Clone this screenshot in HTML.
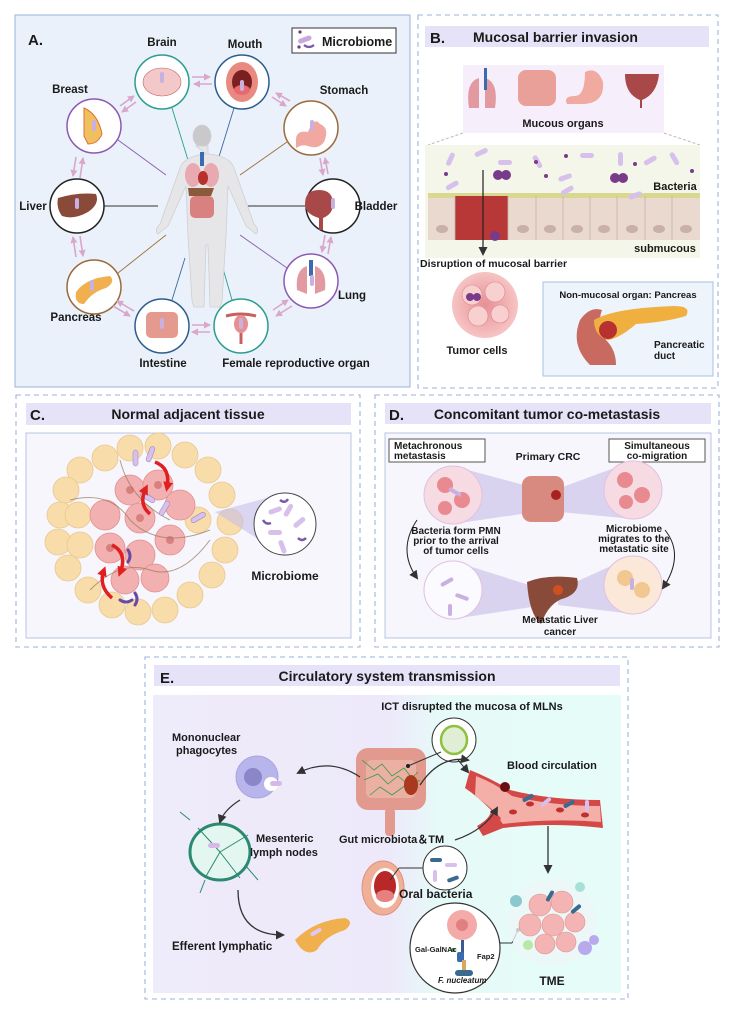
<!DOCTYPE html>
<html><head><meta charset="utf-8"><style>
html,body{margin:0;padding:0;background:#fff;}
svg{display:block;font-family:"Liberation Sans",sans-serif;}
.t{font-weight:bold;fill:#1a1a1a;}
</style></head><body>
<svg width="735" height="1015" viewBox="0 0 735 1015" xmlns="http://www.w3.org/2000/svg">
<defs>
<marker id="ah" markerUnits="userSpaceOnUse" markerWidth="9" markerHeight="9" refX="7" refY="4.5" orient="auto"><path d="M0,0 L9,4.5 L0,9 z" fill="#333"/></marker>
<marker id="rh" markerUnits="userSpaceOnUse" markerWidth="10" markerHeight="10" refX="6" refY="5" orient="auto"><path d="M0,0 L10,5 L0,10 z" fill="#e02020"/></marker>
<marker id="pk" markerUnits="userSpaceOnUse" markerWidth="7" markerHeight="7" refX="6" refY="3.5" orient="auto"><path d="M0,0 L7,3.5 L0,7 z" fill="#d9a6cc"/></marker>
<linearGradient id="eg" x1="0" x2="1" y1="0" y2="0"><stop offset="0" stop-color="#eeebfa"/><stop offset="0.5" stop-color="#ede9fa"/><stop offset="0.62" stop-color="#e6fbf8"/><stop offset="1" stop-color="#e6fcf9"/></linearGradient>
<radialGradient id="tum"><stop offset="0" stop-color="#e88f95"/><stop offset="1" stop-color="#f6c4c4"/></radialGradient>
</defs>

<!-- PANEL A -->
<rect x="15" y="15" width="395" height="372" fill="#eaf1fa" stroke="#a9bfdf" stroke-width="1.2"/>
<text x="28" y="45" class="t" font-size="15">A.</text>
<rect x="292" y="28" width="104" height="25" fill="#fff" stroke="#333"/>
<rect x="298" y="37" width="14" height="5" rx="2.5" fill="#c8a8dc" transform="rotate(-20 305 40)"/>
<circle cx="300" cy="32" r="1.6" fill="#6a3a8a"/><circle cx="299" cy="47" r="1.6" fill="#6a3a8a"/>
<path d="M304 45 q5 4 10 0" stroke="#7a5aa8" stroke-width="2.2" fill="none"/>
<text x="322" y="46" class="t" font-size="12.5">Microbiome</text>

<g stroke-width="0.9" fill="none">
<line x1="172" y1="108" x2="188" y2="160" stroke="#2a9d8f"/>
<line x1="234" y1="108" x2="218" y2="160" stroke="#3a6aa0"/>
<line x1="287" y1="142" x2="240" y2="175" stroke="#a0703a"/>
<line x1="305" y1="206" x2="248" y2="206" stroke="#333"/>
<line x1="287" y1="268" x2="240" y2="235" stroke="#8a5ab0"/>
<line x1="232" y1="300" x2="220" y2="258" stroke="#2a9d8f"/>
<line x1="172" y1="300" x2="185" y2="258" stroke="#3a6aa0"/>
<line x1="118" y1="273" x2="166" y2="235" stroke="#a0703a"/>
<line x1="104" y1="206" x2="158" y2="206" stroke="#333"/>
<line x1="118" y1="140" x2="166" y2="175" stroke="#8a5ab0"/>
</g>
<g fill="#e6e6e8" stroke="#cfcfd4" stroke-width="0.8">
<ellipse cx="202" cy="136" rx="9" ry="11" fill="#c9c9cc"/>
<path d="M196 146 h12 v8 q22 2 26 14 l20 56 q6 6 2 10 l-10 -8 l-18 -40 l-2 50 l-4 65 l-2 6 h-10 l-2 -62 h-2 l-2 62 h-10 l-2 -6 l-4 -65 l-2 -50 l-18 40 l-10 8 q-4 -4 2 -10 l20 -56 q4 -12 26 -14 z"/>
</g>
<rect x="200" y="152" width="4" height="14" fill="#3a6ab0"/>
<ellipse cx="193" cy="175" rx="8" ry="12" fill="#e8aab0"/><ellipse cx="211" cy="175" rx="8" ry="12" fill="#e8aab0"/>
<ellipse cx="203" cy="178" rx="5" ry="7" fill="#b8302e"/>
<path d="M188 188 h26 l-3 8 h-22 z" fill="#8a5a3a"/>
<rect x="190" y="196" width="24" height="22" rx="5" fill="#d98080"/>
<g stroke-width="1.5" fill="#fff">
<circle cx="162" cy="82" r="27" stroke="#2a9d8f"/>
<circle cx="242" cy="82" r="27" stroke="#2d5d8f"/>
<circle cx="311" cy="128" r="27" stroke="#9a6a3a"/>
<circle cx="333" cy="206" r="27" stroke="#222"/>
<circle cx="311" cy="281" r="27" stroke="#8a5ab0"/>
<circle cx="241" cy="326" r="27" stroke="#2a9d8f"/>
<circle cx="162" cy="326" r="27" stroke="#2d5d8f"/>
<circle cx="94" cy="287" r="27" stroke="#9a6a3a"/>
<circle cx="77" cy="206" r="27" stroke="#222"/>
<circle cx="94" cy="126" r="27" stroke="#8a5ab0"/>
</g>
<ellipse cx="162" cy="82" rx="19" ry="14" fill="#f3c8c8" stroke="#c86060" stroke-width="0.6"/>
<ellipse cx="242" cy="82" rx="16" ry="20" fill="#e88a80"/><ellipse cx="242" cy="82" rx="10" ry="12" fill="#7a2020"/><ellipse cx="242" cy="90" rx="8" ry="5" fill="#e86a70"/>
<path d="M296 140 q0 -10 12 -8 q6 -16 12 -8 q10 4 4 18 q-6 8 -16 4 q-6 -2 -12 2 z" fill="#f0a8a0"/>
<path d="M319 190 q14 0 14 14 q0 10 -10 14 v12 h-4 v-12 q-14 -4 -14 -14 q0 -14 14 -14z" fill="#a84848"/>
<path d="M297 290 q-2 -20 10 -24 v28 z M325 290 q2 -20 -10 -24 v28 z" fill="#e29aa0"/><rect x="309" y="260" width="4" height="16" fill="#3a6ab0"/>
<path d="M226 316 q15 -4 30 0 M241 316 v28" stroke="#c86060" stroke-width="3" fill="none"/><ellipse cx="241" cy="324" rx="7" ry="9" fill="#e89090"/>
<rect x="146" y="312" width="32" height="26" rx="5" fill="#e59a90"/>
<path d="M76 292 q10 -14 34 -16 q6 6 -4 12 q-14 4 -22 16 q-10 0 -8 -12z" fill="#f0b050"/>
<path d="M58 198 q20 -6 38 -4 q4 10 -8 18 q-14 8 -26 4 q-6 -8 -4 -18z" fill="#8a4a3a"/>
<path d="M84 108 q14 6 18 26 q-4 10 -14 10 l-4 -8z" fill="#f0c060" stroke="#e07030"/>
<g fill="#c8b0e0"><rect x="160" y="72" width="4" height="11" rx="2"/><rect x="240" y="80" width="4" height="11" rx="2"/><rect x="310" y="120" width="4" height="11" rx="2"/><rect x="331" y="198" width="4" height="11" rx="2"/><rect x="160" y="318" width="4" height="11" rx="2"/><rect x="239" y="318" width="4" height="11" rx="2"/><rect x="90" y="280" width="4" height="11" rx="2"/><rect x="75" y="198" width="4" height="11" rx="2"/><rect x="92" y="120" width="4" height="11" rx="2"/><rect x="310" y="275" width="4" height="11" rx="2"/></g>
<g stroke="#d9a6cc" stroke-width="1.6" marker-end="url(#pk)">
<line x1="192" y1="77" x2="210" y2="77"/><line x1="212" y1="84" x2="194" y2="84"/>
<line x1="272" y1="97" x2="286" y2="106"/><line x1="290" y1="101" x2="276" y2="93"/>
<line x1="320" y1="158" x2="323" y2="175"/><line x1="328" y1="174" x2="325" y2="158"/>
<line x1="325" y1="235" x2="322" y2="252"/><line x1="328" y1="254" x2="331" y2="237"/>
<line x1="292" y1="306" x2="276" y2="316"/><line x1="273" y1="310" x2="288" y2="300"/>
<line x1="192" y1="325" x2="210" y2="325"/><line x1="210" y1="332" x2="192" y2="332"/>
<line x1="113" y1="306" x2="130" y2="316"/><line x1="134" y1="311" x2="117" y2="301"/>
<line x1="80" y1="236" x2="83" y2="256"/><line x1="76" y1="257" x2="73" y2="237"/>
<line x1="80" y1="178" x2="83" y2="158"/><line x1="76" y1="157" x2="73" y2="176"/>
<line x1="120" y1="106" x2="134" y2="96"/><line x1="136" y1="102" x2="122" y2="112"/>
</g>
<g class="t" font-size="11.5" text-anchor="middle">
<text x="162" y="46">Brain</text><text x="245" y="48">Mouth</text><text x="344" y="94">Stomach</text>
<text x="70" y="93">Breast</text><text x="33" y="210">Liver</text><text x="376" y="210">Bladder</text>
<text x="352" y="299">Lung</text><text x="76" y="321">Pancreas</text>
<text x="163" y="367">Intestine</text><text x="296" y="367">Female reproductive organ</text>
</g>

<!-- PANEL B -->
<rect x="418" y="15" width="300" height="373" fill="none" stroke="#9fb3dc" stroke-dasharray="5,4" stroke-width="1.1"/>
<rect x="425" y="26" width="284" height="21" fill="#e6e3f8"/>
<text x="430" y="43" class="t" font-size="15">B.</text>
<text x="473" y="42" class="t" font-size="14">Mucosal barrier invasion</text>
<rect x="463" y="65" width="201" height="68" fill="#f6eefb"/>
<path d="M469 108 q-4 -26 10 -30 v30z M495 108 q4 -26 -10 -30 v30z" fill="#e29aa0"/><rect x="484" y="68" width="3" height="22" fill="#3a6ab0"/>
<rect x="518" y="70" width="38" height="36" rx="8" fill="#e9a098"/>
<path d="M567 104 q-4 -8 8 -8 q10 0 10 -24 q12 -6 18 10 q2 20 -18 22 z" fill="#f0aaa0"/>
<path d="M625 74 h34 q-2 20 -17 26 v8 h-2 v-8 q-15 -6 -15 -26z" fill="#a84848"/>
<text x="563" y="127" class="t" font-size="11" text-anchor="middle">Mucous organs</text>
<path d="M463 133 L428 145 M664 133 L700 145" stroke="#bbb" stroke-dasharray="3,2" fill="none"/>
<rect x="425" y="145" width="275" height="113" fill="#f3f6e8"/>
<rect x="428" y="196" width="272" height="44" fill="#e9d9cf"/>
<rect x="428" y="193" width="272" height="5" fill="#d8d890"/>
<rect x="455" y="196" width="53" height="44" fill="#b83838"/>
<g stroke="#c8b0a8" stroke-width="0.8"><line x1="455" y1="196" x2="455" y2="240"/><line x1="508" y1="196" x2="508" y2="240"/><line x1="536" y1="196" x2="536" y2="240"/><line x1="563" y1="196" x2="563" y2="240"/><line x1="590" y1="196" x2="590" y2="240"/><line x1="617" y1="196" x2="617" y2="240"/><line x1="645" y1="196" x2="645" y2="240"/><line x1="672" y1="196" x2="672" y2="240"/></g>
<g fill="#c9b0a8"><ellipse cx="442" cy="229" rx="6" ry="4"/><ellipse cx="523" cy="229" rx="6" ry="4"/><ellipse cx="550" cy="229" rx="6" ry="4"/><ellipse cx="577" cy="229" rx="6" ry="4"/><ellipse cx="604" cy="229" rx="6" ry="4"/><ellipse cx="632" cy="229" rx="6" ry="4"/><ellipse cx="659" cy="229" rx="6" ry="4"/><ellipse cx="686" cy="229" rx="6" ry="4"/></g>
<g fill="#d8c0ec"><rect x="448" y="152" width="5" height="14" rx="2.5" transform="rotate(25 450 159)"/><rect x="474" y="150" width="14" height="5" rx="2.5" transform="rotate(-25 481 152)"/><rect x="498" y="160" width="14" height="5" rx="2.5"/><rect x="535" y="155" width="5" height="14" rx="2.5" transform="rotate(-30 537 162)"/><rect x="558" y="175" width="14" height="5" rx="2.5" transform="rotate(-20 565 177)"/><rect x="580" y="153" width="14" height="5" rx="2.5"/><rect x="618" y="152" width="5" height="14" rx="2.5"/><rect x="643" y="158" width="14" height="5" rx="2.5" transform="rotate(-30 650 160)"/><rect x="672" y="152" width="5" height="14" rx="2.5" transform="rotate(-30 674 159)"/><rect x="445" y="183" width="14" height="5" rx="2.5" transform="rotate(-30 452 185)"/><rect x="628" y="193" width="14" height="5" rx="2.5" transform="rotate(-20 635 195)"/><rect x="560" y="188" width="14" height="5" rx="2.5" transform="rotate(-30 567 190)"/></g>
<g fill="#7a3a8a"><circle cx="498" cy="175" r="5"/><circle cx="506" cy="175" r="5"/><circle cx="615" cy="178" r="5"/><circle cx="623" cy="178" r="5"/><circle cx="536" cy="162" r="2"/><circle cx="566" cy="156" r="2"/><circle cx="546" cy="176" r="2"/><circle cx="635" cy="164" r="2"/><circle cx="692" cy="171" r="2"/><circle cx="446" cy="174" r="2"/><circle cx="495" cy="236" r="5"/></g>
<line x1="483" y1="170" x2="483" y2="254" stroke="#222" stroke-width="1.2" marker-end="url(#ah)"/>
<text x="675" y="190" class="t" font-size="11" text-anchor="middle">Bacteria</text>
<text x="665" y="252" class="t" font-size="11" text-anchor="middle">submucous</text>
<text x="420" y="267" class="t" font-size="10.5">Disruption of mucosal barrier</text>
<circle cx="485" cy="305" r="33" fill="url(#tum)"/>
<g fill="#f8d0d0" stroke="#d88888" stroke-width="0.6"><circle cx="472" cy="295" r="10"/><circle cx="495" cy="292" r="10"/><circle cx="478" cy="316" r="10"/><circle cx="500" cy="314" r="9"/></g>
<circle cx="470" cy="297" r="4" fill="#7a3a8a"/><circle cx="477" cy="297" r="4" fill="#7a3a8a"/>
<text x="477" y="354" class="t" font-size="11" text-anchor="middle">Tumor cells</text>
<rect x="543" y="282" width="170" height="94" fill="#eef4fb" stroke="#a9c0e0"/>
<text x="628" y="298" class="t" font-size="9.5" text-anchor="middle">Non-mucosal organ: Pancreas</text>
<path d="M590 365 q-20 -20 -10 -45 q10 -14 22 -10 q-6 16 4 30 q10 10 10 25 z" fill="#c86a60"/>
<path d="M594 320 q20 -12 80 -14 q18 0 12 10 q-20 6 -50 8 q-16 14 -28 16 q-14 -4 -14 -20z" fill="#f0b040"/>
<circle cx="608" cy="330" r="9" fill="#b83030"/>
<text x="654" y="348" class="t" font-size="10">Pancreatic</text><text x="654" y="359" class="t" font-size="10">duct</text>

<!-- PANEL C -->
<rect x="16" y="395" width="344" height="252" fill="none" stroke="#9fb3dc" stroke-dasharray="5,4" stroke-width="1.1"/>
<rect x="26" y="403" width="325" height="22" fill="#e6e3f8"/>
<text x="30" y="420" class="t" font-size="15">C.</text>
<text x="188" y="419" class="t" font-size="14" text-anchor="middle">Normal adjacent tissue</text>
<rect x="26" y="433" width="325" height="205" fill="#f6f6fc" stroke="#b8c4e4"/>
<g fill="#f8dcaa" stroke="#e8c890" stroke-width="0.8">
<circle cx="80" cy="470" r="13"/><circle cx="105" cy="458" r="13"/><circle cx="130" cy="448" r="13"/><circle cx="158" cy="446" r="13"/><circle cx="185" cy="455" r="13"/><circle cx="208" cy="470" r="13"/><circle cx="222" cy="495" r="13"/><circle cx="230" cy="522" r="13"/><circle cx="225" cy="550" r="13"/><circle cx="212" cy="575" r="13"/><circle cx="190" cy="595" r="13"/><circle cx="165" cy="610" r="13"/><circle cx="138" cy="612" r="13"/><circle cx="112" cy="605" r="13"/><circle cx="88" cy="590" r="13"/><circle cx="68" cy="568" r="13"/><circle cx="58" cy="542" r="13"/><circle cx="60" cy="515" r="13"/><circle cx="66" cy="490" r="13"/><circle cx="78" cy="515" r="13"/><circle cx="80" cy="545" r="13"/><circle cx="198" cy="520" r="13"/></g>
<g fill="#f2b0b0" stroke="#e09090" stroke-width="0.8">
<circle cx="130" cy="490" r="15"/><circle cx="158" cy="485" r="15"/><circle cx="180" cy="505" r="15"/><circle cx="105" cy="515" r="15"/><circle cx="140" cy="518" r="15"/><circle cx="170" cy="540" r="15"/><circle cx="110" cy="548" r="15"/><circle cx="140" cy="555" r="15"/><circle cx="125" cy="580" r="14"/><circle cx="155" cy="578" r="14"/></g>
<g fill="#d88080"><circle cx="130" cy="490" r="4"/><circle cx="158" cy="485" r="4"/><circle cx="140" cy="518" r="4"/><circle cx="110" cy="548" r="4"/><circle cx="170" cy="540" r="4"/></g>
<g stroke="#9a7a5a" stroke-width="1" fill="none" opacity="0.7"><path d="M70 500 q40 -10 60 20 q30 30 80 10"/><path d="M90 590 q30 -30 60 -20 q30 10 60 -30"/><path d="M120 460 q10 40 50 60"/></g>
<g fill="#d8c0ec" stroke="#9a80b8" stroke-width="0.5"><rect x="133" y="450" width="5" height="16" rx="2.5"/><rect x="148" y="446" width="5" height="16" rx="2.5" transform="rotate(20 150 454)"/><rect x="140" y="495" width="16" height="5" rx="2.5" transform="rotate(30 148 497)"/><rect x="162" y="500" width="5" height="16" rx="2.5" transform="rotate(30 164 508)"/><rect x="190" y="515" width="16" height="5" rx="2.5" transform="rotate(-30 198 517)"/></g>
<g stroke="#6a4aa0" stroke-width="3" fill="none" stroke-linecap="round"><path d="M120 600 q6 4 12 0"/><path d="M135 605 q4 -6 0 -12"/><path d="M128 550 q4 6 0 12"/></g>
<g stroke="#e02020" stroke-width="3.5" fill="none" marker-end="url(#rh)"><path d="M155 462 q16 6 12 26"/><path d="M150 514 q-12 -10 -4 -26"/><path d="M112 545 q16 8 8 28"/><path d="M112 598 q-14 -12 -8 -28"/></g>
<path d="M215 512 L285 493 L285 556 Z" fill="#c8c0e8" opacity="0.6"/>
<circle cx="285" cy="524" r="31" fill="#fff" stroke="#444" stroke-width="1"/>
<g fill="#d8c0ec"><rect x="268" y="508" width="14" height="5" rx="2.5" transform="rotate(-20 275 510)"/><rect x="286" y="503" width="5" height="14" rx="2.5" transform="rotate(30 288 510)"/><rect x="268" y="530" width="14" height="5" rx="2.5"/><rect x="292" y="520" width="14" height="5" rx="2.5" transform="rotate(-40 299 522)"/><rect x="280" y="540" width="5" height="14" rx="2.5" transform="rotate(-20 282 547)"/></g>
<g stroke="#7a5aa8" stroke-width="2.5" fill="none"><path d="M280 500 q5 4 8 -1"/><path d="M298 538 q4 4 8 0"/><path d="M263 520 q3 5 8 3"/></g>
<text x="285" y="580" class="t" font-size="12" text-anchor="middle">Microbiome</text>

<!-- PANEL D -->
<rect x="375" y="395" width="344" height="252" fill="none" stroke="#9fb3dc" stroke-dasharray="5,4" stroke-width="1.1"/>
<rect x="385" y="403" width="326" height="21" fill="#e6e3f8"/>
<text x="389" y="420" class="t" font-size="15">D.</text>
<text x="547" y="419" class="t" font-size="14" text-anchor="middle">Concomitant tumor co-metastasis</text>
<rect x="385" y="433" width="326" height="205" fill="#f6f6fc" stroke="#b8c4e4"/>
<rect x="389" y="439" width="96" height="23" fill="#fff" stroke="#555"/>
<text x="394" y="449" class="t" font-size="10">Metachronous</text><text x="394" y="459" class="t" font-size="10">metastasis</text>
<rect x="609" y="439" width="96" height="23" fill="#fff" stroke="#555"/>
<text x="657" y="449" class="t" font-size="10" text-anchor="middle">Simultaneous</text><text x="657" y="459" class="t" font-size="10" text-anchor="middle">co-migration</text>
<text x="548" y="460" class="t" font-size="10.5" text-anchor="middle">Primary CRC</text>
<g fill="#c8bce8" opacity="0.6"><path d="M453 466 L535 488 L535 512 L453 524z"/><path d="M633 461 L560 488 L560 512 L633 519z"/><path d="M453 561 L545 590 L545 605 L453 619z"/><path d="M633 556 L558 590 L558 605 L633 614z"/></g>
<rect x="522" y="476" width="42" height="46" rx="9" fill="#d98a80"/><circle cx="556" cy="495" r="5" fill="#a82020"/>
<path d="M527 582 q20 -8 50 -4 q4 14 -12 20 q-16 4 -24 26 q-12 -10 -14 -42z" fill="#8a4a3a"/><circle cx="558" cy="590" r="5" fill="#d05020"/>
<g stroke="#e0c0e0" stroke-width="1" fill="#f7dbe2"><circle cx="453" cy="495" r="29"/><circle cx="633" cy="490" r="29"/><circle cx="453" cy="590" r="29" fill="#fafaff"/><circle cx="633" cy="585" r="29" fill="#fbe8d8"/></g>
<g fill="#e88a90"><circle cx="445" cy="485" r="8"/><circle cx="462" cy="500" r="8"/><circle cx="445" cy="508" r="7"/><circle cx="625" cy="480" r="8"/><circle cx="642" cy="495" r="8"/><circle cx="626" cy="502" r="7"/></g>
<g fill="#f0c890"><circle cx="625" cy="578" r="8"/><circle cx="642" cy="590" r="8"/></g>
<g fill="#c8b0e0"><rect x="440" y="580" width="14" height="4" rx="2" transform="rotate(-30 447 582)"/><rect x="455" y="595" width="14" height="4" rx="2" transform="rotate(20 462 597)"/><rect x="448" y="604" width="4" height="12" rx="2"/><rect x="630" y="578" width="4" height="12" rx="2"/><rect x="448" y="490" width="14" height="4" rx="2" transform="rotate(30 455 492)"/></g>
<g stroke="#222" stroke-width="1" fill="none" marker-end="url(#ah)"><path d="M417 520 q-20 30 0 58"/><path d="M665 530 q20 25 -2 58"/></g>
<g class="t" font-size="10" text-anchor="middle">
<text x="456" y="534">Bacteria form PMN</text><text x="456" y="544">prior to the arrival</text><text x="456" y="554">of tumor cells</text>
<text x="634" y="532">Microbiome</text><text x="634" y="542">migrates to the</text><text x="634" y="552">metastatic site</text>
<text x="560" y="623">Metastatic Liver</text><text x="560" y="635">cancer</text>
</g>

<!-- PANEL E -->
<rect x="145" y="657" width="483" height="342" fill="none" stroke="#9fb3dc" stroke-dasharray="5,4" stroke-width="1.1"/>
<rect x="154" y="665" width="466" height="21" fill="#e6e3f8"/>
<text x="160" y="683" class="t" font-size="15">E.</text>
<text x="387" y="681" class="t" font-size="14" text-anchor="middle">Circulatory system transmission</text>
<rect x="153" y="695" width="468" height="298" fill="url(#eg)"/>
<text x="472" y="710" class="t" font-size="11" text-anchor="middle">ICT disrupted the mucosa of MLNs</text>
<text x="172" y="741" class="t" font-size="11">Mononuclear</text><text x="176" y="754" class="t" font-size="11">phagocytes</text>
<circle cx="257" cy="777" r="21" fill="#b8b4ec" stroke="#a8a4dc"/>
<circle cx="253" cy="777" r="9" fill="#8a86c8"/>
<circle cx="271" cy="784" r="7" fill="#fff"/>
<rect x="270" y="781" width="12" height="5" rx="2.5" fill="#d8b8e8"/>
<ellipse cx="220" cy="852" rx="30" ry="28" fill="#e4f6f0" stroke="#2a8a70" stroke-width="3"/>
<g stroke="#2a8a70" stroke-width="1" fill="none"><line x1="220" y1="852" x2="198" y2="828"/><line x1="220" y1="852" x2="248" y2="835"/><line x1="220" y1="852" x2="205" y2="878"/><line x1="220" y1="852" x2="240" y2="878"/><line x1="190" y1="820" x2="180" y2="812"/><line x1="245" y1="865" x2="258" y2="880"/><line x1="205" y1="880" x2="200" y2="893"/></g>
<rect x="208" y="843" width="12" height="5" rx="2.5" fill="#d8b8e8"/>
<text x="256" y="842" class="t" font-size="11">Mesenteric</text><text x="250" y="856" class="t" font-size="11">lymph nodes</text>
<rect x="356" y="748" width="70" height="62" rx="12" fill="#e29a8e"/>
<rect x="366" y="760" width="50" height="38" rx="6" fill="#eab0a4"/>
<rect x="385" y="808" width="10" height="28" rx="4" fill="#e29a8e"/>
<g stroke="#3a9a40" stroke-width="0.8" fill="none"><path d="M362 760 l12 10 l8 -6 l10 12 l12 -8 l8 10 l6 -6"/><path d="M364 780 l14 -6 l10 10 l10 -8 l12 10 l10 -6"/><path d="M370 795 l10 -8 l12 8 l14 -10"/></g>
<ellipse cx="411" cy="785" rx="7" ry="10" fill="#a8381e"/>
<circle cx="454" cy="740" r="22" fill="#fff" stroke="#333"/>
<ellipse cx="454" cy="740" rx="13" ry="14" fill="#dfeed4" stroke="#90c040" stroke-width="2.5"/>
<line x1="458" y1="760" x2="468" y2="772" stroke="#333" marker-end="url(#ah)"/>
<line x1="441" y1="752" x2="408" y2="766" stroke="#333"/>
<circle cx="408" cy="766" r="2" fill="#222"/>
<path d="M470 770 q20 8 40 20 q40 10 90 10 l3 28 q-50 -6 -100 0 q-10 4 -20 8 l-6 -10 q14 -8 14 -16 q-14 -14 -26 -22z" fill="#d44848"/>
<path d="M476 776 q20 8 36 20 q40 10 88 10 l1 16 q-50 -4 -98 2 q-4 -4 -2 -6 q-14 -14 -26 -22z" fill="#f4b0a8"/>
<g fill="#c03030"><ellipse cx="530" cy="804" rx="4" ry="2.5"/><ellipse cx="560" cy="810" rx="4" ry="2.5"/><ellipse cx="585" cy="815" rx="4" ry="2.5"/><ellipse cx="513" cy="812" rx="4" ry="2.5"/><circle cx="505" cy="787" r="5" fill="#6a1010"/></g>
<g fill="#3a6a90"><rect x="522" y="796" width="12" height="4" rx="2" transform="rotate(-30 528 798)"/><rect x="563" y="802" width="12" height="4" rx="2" transform="rotate(-30 569 804)"/></g>
<g fill="#d8c0ec"><rect x="540" y="800" width="12" height="4" rx="2" transform="rotate(-40 546 802)"/><rect x="585" y="800" width="4" height="12" rx="2"/></g>
<text x="507" y="769" class="t" font-size="11">Blood circulation</text>
<text x="339" y="843" class="t" font-size="11">Gut microbiota＆TM</text>
<ellipse cx="383" cy="888" rx="21" ry="27" fill="#f0b098" stroke="#e09080"/>
<ellipse cx="385" cy="888" rx="14" ry="20" fill="#fff"/>
<ellipse cx="385" cy="886" rx="11" ry="15" fill="#b82828"/>
<ellipse cx="385" cy="896" rx="9" ry="6" fill="#e88080"/>
<circle cx="445" cy="868" r="22" fill="#fff" stroke="#333"/>
<g fill="#3a6a90"><rect x="430" y="858" width="12" height="4" rx="2"/><rect x="447" y="877" width="12" height="4" rx="2" transform="rotate(-20 453 879)"/></g>
<g fill="#d8c0ec"><rect x="445" y="863" width="12" height="4" rx="2"/><rect x="433" y="870" width="4" height="12" rx="2"/></g>
<line x1="423" y1="868" x2="399" y2="868" stroke="#333"/><line x1="399" y1="868" x2="390" y2="880" stroke="#333"/>
<text x="399" y="898" class="t" font-size="12">Oral bacteria</text>
<circle cx="455" cy="948" r="45" fill="#fff" stroke="#333" stroke-width="1.2"/>
<circle cx="462" cy="925" r="15" fill="#f4aaa8"/><circle cx="462" cy="925" r="6" fill="#e08080"/>
<rect x="461" y="940" width="3" height="14" fill="#3a5a90"/><rect x="457" y="952" width="7" height="10" rx="2" fill="#3a6ab0"/>
<rect x="462" y="960" width="4" height="10" fill="#d8a860"/><rect x="455" y="970" width="18" height="6" rx="3" fill="#3a6a90"/>
<circle cx="453" cy="950" r="2" fill="#4a9a40"/>
<text x="415" y="952" class="t" font-size="7.5">Gal-GalNAc</text>
<text x="477" y="959" class="t" font-size="7.5">Fap2</text>
<text x="438" y="983" font-size="8" font-weight="bold" font-style="italic" fill="#1a1a1a">F. nucleatum</text>
<line x1="500" y1="943" x2="512" y2="943" stroke="#333"/><line x1="512" y1="943" x2="518" y2="930" stroke="#333"/><circle cx="518" cy="930" r="2" fill="#222"/>
<circle cx="552" cy="922" r="44" fill="#eef6f6" opacity="0.8"/>
<g fill="#f4b4b4" stroke="#e09090" stroke-width="0.6"><circle cx="540" cy="905" r="11"/><circle cx="562" cy="902" r="11"/><circle cx="530" cy="925" r="11"/><circle cx="553" cy="925" r="11"/><circle cx="575" cy="922" r="10"/><circle cx="545" cy="944" r="10"/><circle cx="566" cy="942" r="10"/></g>
<g fill="#b8a8ec"><circle cx="585" cy="948" r="7"/><circle cx="594" cy="940" r="5"/></g>
<circle cx="516" cy="901" r="6" fill="#8ac8d0"/><circle cx="580" cy="887" r="5" fill="#a8e0d8"/><circle cx="528" cy="945" r="5" fill="#b8e8a8"/>
<g fill="#3a6a90"><rect x="548" y="890" width="4" height="12" rx="2" transform="rotate(30 550 896)"/><rect x="570" y="907" width="12" height="4" rx="2" transform="rotate(-40 576 909)"/></g>
<text x="552" y="985" class="t" font-size="12" text-anchor="middle">TME</text>
<path d="M295 940 q20 -20 50 -22 q10 4 0 12 q-20 6 -28 20 q-12 8 -22 -10z" fill="#f0b050"/>
<rect x="310" y="930" width="12" height="4" rx="2" fill="#e0c8f0" transform="rotate(-30 316 932)"/>
<text x="172" y="950" class="t" font-size="11.5">Efferent lymphatic</text>
<g stroke="#333" stroke-width="1.3" fill="none" marker-end="url(#ah)">
<path d="M360 777 q-30 -20 -62 -4"/>
<path d="M240 800 q-16 10 -20 22"/>
<path d="M238 890 q0 45 45 45"/>
<path d="M420 785 q20 -30 48 -25"/>
<path d="M455 840 q30 -10 42 -32"/>
<line x1="548" y1="826" x2="548" y2="872"/>
</g>
</svg>
</body></html>
